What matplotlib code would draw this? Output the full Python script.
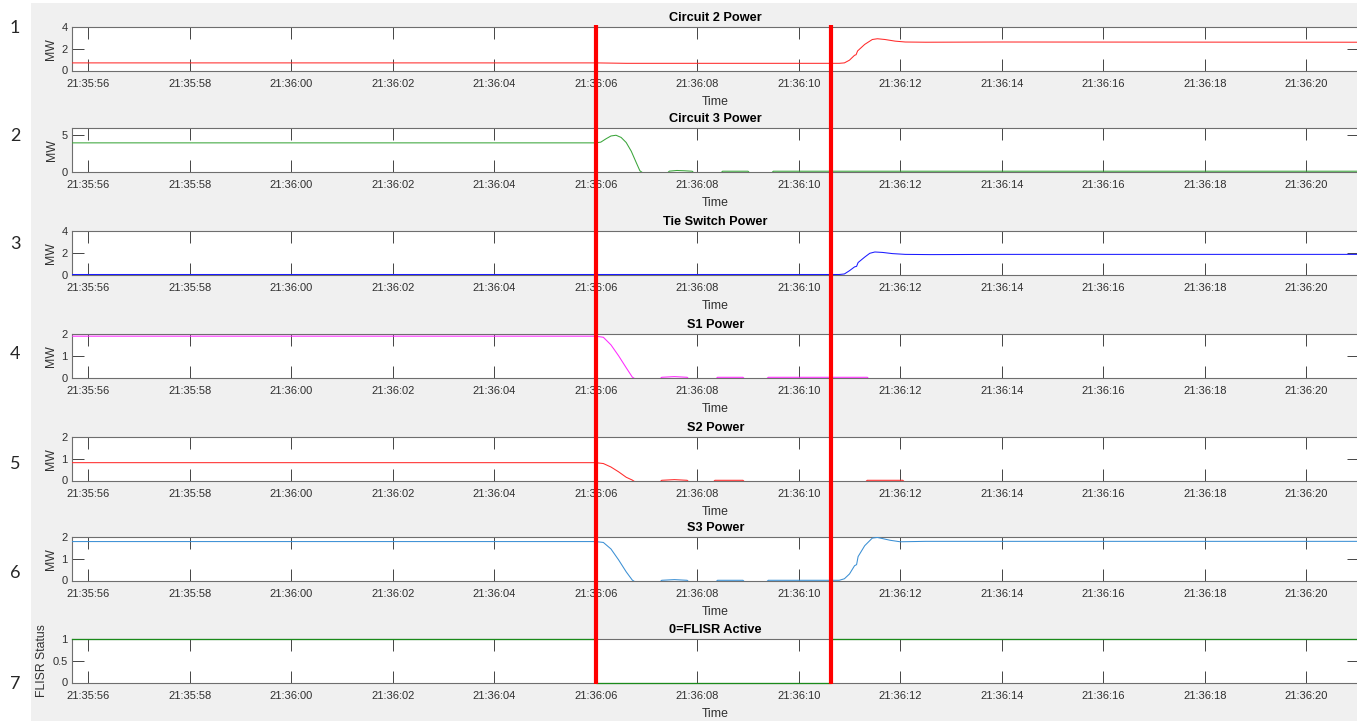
import matplotlib
matplotlib.use("Agg")
import matplotlib.pyplot as plt
from matplotlib.ticker import FuncFormatter, MultipleLocator
from matplotlib.patches import Rectangle

# ---- time base: seconds after 21:35:00 ----
BASE_H, BASE_M = 21, 35
T_START, T_END = 55.68, 81.04
EVENT_TIMES = [66.0, 70.63]          # fault isolation / tie switch close

# ---- measured series ----
circuit2_t = [T_START, 66.0, 66.6, 70.8, 70.9, 71.0, 71.1, 71.13, 71.16, 71.3, 71.45, 71.55, 71.7, 71.9, 72.1, 72.5, 74.0, T_END]
circuit2_v = [0.70, 0.70, 0.66, 0.66, 0.70, 0.95, 1.40, 1.45, 1.80, 2.40, 2.85, 2.92, 2.85, 2.70, 2.62, 2.60, 2.62, 2.60]

circuit3_t = [T_START, 66.0, 66.1, 66.2, 66.3, 66.4, 66.5, 66.6, 66.7, 66.8, 66.87, 66.95, 67.4,
              67.45, 67.6, 67.75, 67.9, 67.95, 68.45, 68.5, 69.0, 69.05, 69.45, 69.5, T_END]
circuit3_v = [3.95, 3.95, 4.05, 4.50, 4.90, 5.00, 4.70, 4.00, 2.80, 1.20, 0.10, -0.30, -0.30,
              0.05, 0.14, 0.10, 0.04, -0.30, -0.30, 0.04, 0.04, -0.30, -0.30, 0.04, 0.04]

tie_t = [T_START, 70.8, 70.9, 71.0, 71.1, 71.14, 71.17, 71.3, 71.4, 71.5, 71.65, 71.85, 72.1, 72.6, 74.0, T_END]
tie_v = [0.0, 0.0, 0.05, 0.35, 0.70, 0.75, 1.10, 1.60, 1.95, 2.07, 2.03, 1.92, 1.85, 1.83, 1.85, 1.85]

s1_t = [T_START, 66.0, 66.15, 66.3, 66.45, 66.6, 66.72, 66.8, 67.25,
        67.3, 67.55, 67.8, 67.85, 68.35, 68.4, 68.9, 68.95, 69.35, 69.4, 71.35, 71.4, T_END]
s1_v = [1.90, 1.90, 1.85, 1.50, 1.00, 0.45, 0.02, -0.10, -0.10,
        0.01, 0.04, 0.01, -0.10, -0.10, 0.01, 0.01, -0.10, -0.10, 0.01, 0.01, -0.10, -0.10]

s2_t = [T_START, 66.0, 66.15, 66.3, 66.45, 66.6, 66.72, 66.8, 67.25,
        67.3, 67.55, 67.8, 67.85, 68.3, 68.35, 68.9, 68.95, 71.3, 71.35, 72.05, 72.1, T_END]
s2_v = [0.82, 0.82, 0.78, 0.62, 0.40, 0.15, 0.02, -0.10, -0.10,
        0.01, 0.04, 0.01, -0.10, -0.10, 0.01, 0.01, -0.10, -0.10, 0.01, 0.01, -0.10, -0.10]

s3_t = [T_START, 66.0, 66.15, 66.3, 66.45, 66.6, 66.72, 66.8, 67.25,
        67.3, 67.55, 67.8, 67.85, 68.35, 68.4, 68.9, 68.95, 69.35, 69.4, 70.8,
        70.9, 71.0, 71.1, 71.14, 71.17, 71.3, 71.45, 71.55, 71.8, 72.0, 72.5, T_END]
s3_v = [1.79, 1.79, 1.75, 1.45, 0.95, 0.40, 0.02, -0.10, -0.10,
        0.01, 0.04, 0.01, -0.10, -0.10, 0.01, 0.01, -0.10, -0.10, 0.01, 0.01,
        0.08, 0.30, 0.68, 0.73, 1.10, 1.60, 1.95, 1.98, 1.85, 1.78, 1.80, 1.80]

flisr_t = [T_START, 66.0, 70.63, T_END]
flisr_v = [1, 0, 1, 1]

titles = ["Circuit 2 Power", "Circuit 3 Power", "Tie Switch Power",
          "S1 Power", "S2 Power", "S3 Power", "0=FLISR Active"]
ylabels = ["MW"] * 6 + ["FLISR Status"]
colors = ["#ff2a2a", "#3aa53a", "#1a1aff", "#ff2aff", "#ff2a2a", "#3a8fd4", "#1a8a1a"]
ylims = [(0, 4), (0, 6), (0, 4), (0, 2), (0, 2), (0, 2), (0, 1)]
yticks = [[0, 2, 4], [0, 5], [0, 2, 4], [0, 1, 2], [0, 1, 2], [0, 1, 2], [0, 0.5, 1]]
panel_numbers = ["1", "2", "3", "4", "5", "6", "7"]

series = [(circuit2_t, circuit2_v), (circuit3_t, circuit3_v), (tie_t, tie_v),
          (s1_t, s1_v), (s2_t, s2_v), (s3_t, s3_v), (flisr_t, flisr_v)]


def hms(sec, pos=None):
    total = BASE_H * 3600 + BASE_M * 60 + int(round(sec))
    h, rem = divmod(total, 3600)
    m, s = divmod(rem, 60)
    return f"{h:02d}:{m:02d}:{s:02d}"


W, H = 1357, 721
fig = plt.figure(figsize=(W / 100, H / 100), dpi=100, facecolor="white")
plt.rcParams["font.family"] = ["Liberation Sans", "DejaVu Sans"]

# gray figure canvas
fig.add_artist(Rectangle((31 / W, 0), 1 - 31 / W, (H - 3) / H, transform=fig.transFigure,
                         facecolor="#f0f0f0", edgecolor="none", zorder=-10))

left_px, right_px = 72, 1359
ax_tops = [27, 128, 231, 334, 437, 537, 639]
ax_h = 43.5
number_y = [28, 136, 244, 354, 464, 573, 684]

axes = []
for i, (t, v) in enumerate(series):
    top = ax_tops[i]
    ax = fig.add_axes([left_px / W, 1 - (top + ax_h) / H, (right_px - left_px) / W, ax_h / H])
    ax.set_facecolor("white")
    if i == 6:
        ax.plot(t, v, color=colors[i], lw=0.9, drawstyle="steps-post", zorder=3, clip_on=False)
    else:
        ax.plot(t, v, color=colors[i], lw=0.75, zorder=3)
    ax.set_xlim(T_START, T_END)
    ax.set_ylim(*ylims[i])
    ax.set_yticks(yticks[i])
    ax.set_yticklabels([f"{y:g}" for y in yticks[i]])
    ax.xaxis.set_major_locator(MultipleLocator(2))
    ax.xaxis.set_major_formatter(FuncFormatter(hms))
    ax.tick_params(axis="both", direction="in", length=8.6, width=0.6, color="#262626",
                   labelsize=8, labelcolor="#303030", top=True, right=True)
    ax.tick_params(axis="x", pad=6)
    ax.tick_params(axis="y", pad=3)
    for sp in ax.spines.values():
        sp.set_color("#6e6e6e")
        sp.set_linewidth(0.8)
        sp.set_zorder(2.5)
    ax.set_title(titles[i], fontsize=9.2, fontweight="bold", color="black", pad=4.5)
    ax.set_xlabel("Time", fontsize=8.8, color="#303030", labelpad=5.5)
    ax.set_ylabel(ylabels[i], fontsize=8.8, color="#303030", labelpad=3)
    axes.append(ax)
    fig.text(15 / W, 1 - number_y[i] / H, panel_numbers[i], fontsize=13, family="Lato",
             color="#262626", ha="center", va="center")

# event markers spanning all panels
ov_top, ov_bot = 25, 684
ov = fig.add_axes([left_px / W, 1 - ov_bot / H, (right_px - left_px) / W, (ov_bot - ov_top) / H],
                  zorder=10)
ov.set_xlim(T_START, T_END)
ov.set_ylim(0, 1)
ov.axis("off")
ov.patch.set_alpha(0)
for et in EVENT_TIMES:
    ov.axvline(et, color="#ff0000", lw=3.0)

fig.savefig("out.png", dpi=100, facecolor=fig.get_facecolor())
